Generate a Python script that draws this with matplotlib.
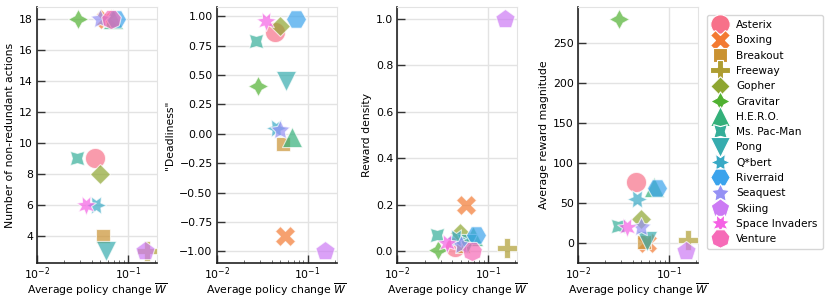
import numpy as np
import matplotlib
matplotlib.use('Agg')
import matplotlib.pyplot as plt
from matplotlib.lines import Line2D
import seaborn as sns

nan = np.nan

games = ['Asterix', 'Boxing', 'Breakout', 'Freeway', 'Gopher', 'Gravitar', 'H.E.R.O.',
         'Ms. Pac-Man', 'Pong', 'Q*bert', 'Riverraid', 'Seaquest', 'Skiing',
         'Space Invaders', 'Venture']

# average policy change W (same for every panel)
policy_change = [0.0434, 0.057, 0.0535, 0.162, 0.049, 0.0285, 0.068,
                 0.0273, 0.058, 0.045, 0.074, 0.050, 0.154, 0.035, 0.066]

n_actions = [9, 18, 4, 3, 8, 18, 18, 9, 3, 6, 18, 18, 3, 6, 18]
deadliness = [0.87, -0.87, -0.09, nan, 0.92, 0.41, -0.03,
              0.79, 0.45, 0.05, 0.98, 0.03, -1.0, 0.96, nan]
reward_density = [0.02, 0.2, 0.025, 0.014, 0.079, 0.004, 0.065,
                  0.071, 0.03, 0.058, 0.071, 0.029, 1.0, 0.036, 0.0]
reward_magnitude = [77, 1, 2, 4, 30, 281, 70, 22, 3, 56, 69, 20, -10, 20, nan]

panels = [(n_actions, 'Number of non-redundant actions', np.arange(4, 19, 2)),
          (deadliness, '"Deadliness"', np.arange(-1, 1.01, 0.25)),
          (reward_density, 'Reward density', np.arange(0, 1.01, 0.2)),
          (reward_magnitude, 'Average reward magnitude', np.arange(0, 251, 50))]

colors = sns.color_palette('husl', len(games))
markers = ['o', 'X', (4, 0, 45), 'P', (4, 0, 0), (4, 1, 0), '^', (4, 1, 45), 'v',
           (6, 1, 30), (6, 0, 30), (5, 1, 0), (5, 0, 0), (7, 1, 360 / 14), (7, 0, 360 / 14)]

plt.rcParams['font.family'] = 'DejaVu Sans'
plt.rcParams['font.size'] = 7.8

fig = plt.figure(figsize=(8.31, 3.01), dpi=100)
lefts = [0.0445, 0.261, 0.478, 0.6955]
axes = [fig.add_axes([l, 0.126, 0.1444, 0.851]) for l in lefts]

for ax, (vals, ylab, yt) in zip(axes, panels):
    for i, g in enumerate(games):
        if np.isnan(vals[i]):
            continue
        ax.scatter(policy_change[i], vals[i], s=210, marker=markers[i], color=colors[i],
                   alpha=0.7, edgecolor='white', linewidth=0.8, zorder=3)
    ax.set_xscale('log')
    ax.set_xlim(0.01, 0.21)
    ax.set_yticks(yt)
    ax.set_xticks([0.01, 0.1])
    ax.set_ylabel(ylab, labelpad=3)
    ax.set_xlabel(r'Average policy change $\overline{W}$', labelpad=0)
    ax.grid(True, which='major', color='#e3e3e3', linewidth=1.0, zorder=0)
    ax.set_axisbelow(True)
    ax.tick_params(which='major', direction='in', length=6, width=1.0, color='#333333', pad=3)
    ax.tick_params(axis='x', which='major', pad=1.5)
    ax.tick_params(which='minor', direction='in', length=2.5, width=0.6, color='#555555')
    for s in ['top', 'right']:
        ax.spines[s].set_color('#e3e3e3')
    for s in ['left', 'bottom']:
        ax.spines[s].set_color('#222222')
        ax.spines[s].set_linewidth(1.2)

axes[2].yaxis.set_major_formatter(matplotlib.ticker.FormatStrFormatter('%.1f'))
axes[1].set_yticklabels(['\u22121.00', '\u22120.75', '\u22120.50', '\u22120.25', '0.00',
                         '0.25', '0.50', '0.75', '1.00'])

handles = [Line2D([], [], linestyle='none', marker=markers[i], color=colors[i],
                  markersize=14, markeredgecolor='white', markeredgewidth=0.8)
           for i in range(len(games))]
leg = fig.legend(handles, games, loc='upper left', bbox_to_anchor=(0.844, 0.968),
                 fontsize=7.6, labelspacing=0.5, handletextpad=0.7, borderpad=0.5,
                 handlelength=1.6, frameon=True)
leg.get_frame().set_edgecolor('#cccccc')

fig.savefig('out.png', dpi=100)
